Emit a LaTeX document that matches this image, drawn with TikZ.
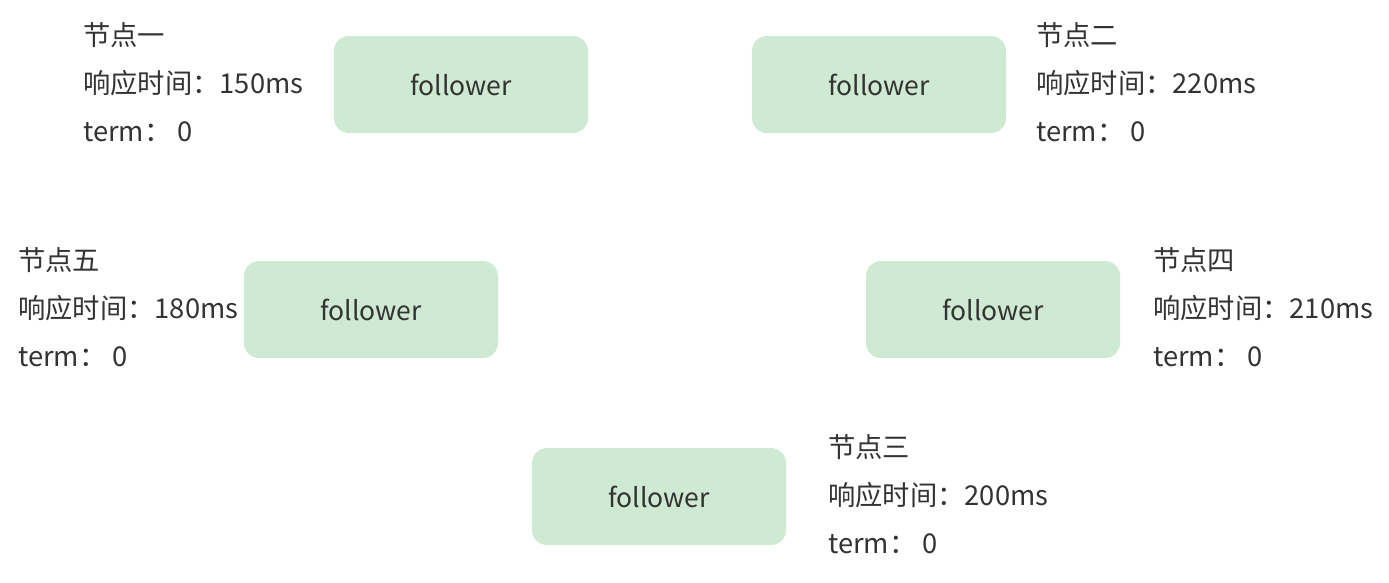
\documentclass[tikz,border=0pt]{standalone}
\usepackage{fontspec}
\setmainfont{Noto Sans CJK SC}
\definecolor{boxfill}{RGB}{207,234,211}
\definecolor{txt}{RGB}{51,51,51}
\tikzset{
  x=1pt,y=-1pt,
  fbox/.style={rectangle,rounded corners=15pt,fill=boxfill,draw=none,minimum width=254pt,minimum height=97pt,inner sep=0pt,text=txt,font=\fontsize{26.5}{30}\selectfont},
  lbl/.style={anchor=base west,inner sep=0pt,text=txt,font=\fontsize{27.3}{30}\selectfont}
}
\begin{document}
\begin{tikzpicture}
\useasboundingbox (0,0) rectangle (1389,582);
% boxes
\node[fbox] (b1) at (461,84.5) {follower};
\node[fbox] (b2) at (879,84.5) {follower};
\node[fbox] (b5) at (371,309.5) {follower};
\node[fbox] (b4) at (993,309.5) {follower};
\node[fbox] (b3) at (659,496.5) {follower};
% labels node 1
\node[lbl] (t1a) at (83,45) {节点一};
\node[lbl] (t1b) at (83,93) {响应时间：150ms};
\node[lbl] (t1c) at (83,141) {term： 0};
% node 2
\node[lbl] (t2a) at (1036,45) {节点二};
\node[lbl] (t2b) at (1036,93) {响应时间：220ms};
\node[lbl] (t2c) at (1036,141) {term： 0};
% node 5
\node[lbl] (t5a) at (18,270) {节点五};
\node[lbl] (t5b) at (18,318) {响应时间：180ms};
\node[lbl] (t5c) at (18,366) {term： 0};
% node 4
\node[lbl] (t4a) at (1153,270) {节点四};
\node[lbl] (t4b) at (1153,318) {响应时间：210ms};
\node[lbl] (t4c) at (1153,366) {term： 0};
% node 3
\node[lbl] (t3a) at (828,457) {节点三};
\node[lbl] (t3b) at (828,505) {响应时间：200ms};
\node[lbl] (t3c) at (828,553) {term： 0};
\end{tikzpicture}
\end{document}
